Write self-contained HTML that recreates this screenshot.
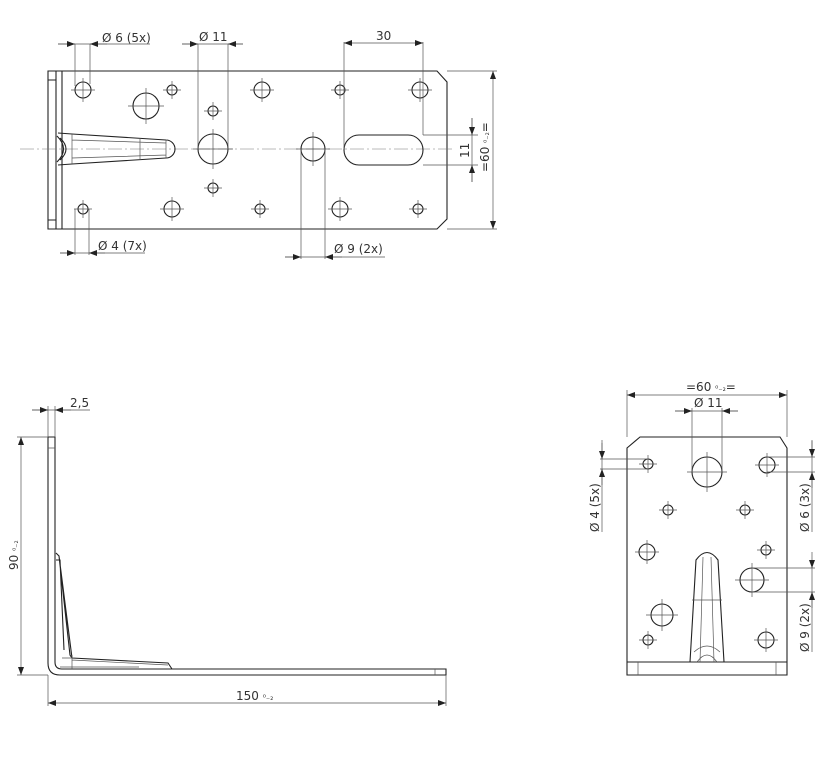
<!DOCTYPE html>
<html><head><meta charset="utf-8"><style>
html,body{margin:0;padding:0;background:#fff;}
svg{display:block;}
text{font-family:"DejaVu Sans","Liberation Sans",sans-serif;font-size:12px;fill:#333;}
.o{stroke:#222;stroke-width:1.1;fill:none;}
.t{stroke:#555;stroke-width:0.7;fill:none;}
.c{stroke:#777;stroke-width:0.5;fill:none;stroke-dasharray:14 3 2 3;}
</style></head><body>
<svg width="823" height="772" viewBox="0 0 823 772" xmlns="http://www.w3.org/2000/svg">
<defs>
<marker id="a" markerWidth="8" markerHeight="6" refX="8" refY="3" orient="auto-start-reverse" markerUnits="userSpaceOnUse"><path d="M0,0 L8,3 L0,6 z" fill="#222"/></marker>
<g id="h5"><circle r="5" class="o"/><path d="M-9,0H9M0,-9V9" class="t"/></g>
<g id="h8"><circle r="8" class="o"/><path d="M-12,0H12M0,-12V12" class="t"/></g>
<g id="h11"><circle r="11" class="o"/><path d="M-16,0H16M0,-16V16" class="t"/></g>
<g id="h12"><circle r="12" class="o"/><path d="M-17,0H17M0,-17V17" class="t"/></g>
<g id="h13"><circle r="13" class="o"/><path d="M-18,0H18M0,-18V18" class="t"/></g>
<g id="h15"><circle r="15" class="o"/><path d="M-20,0H20M0,-20V20" class="t"/></g>
</defs>

<!-- TOP VIEW -->
<path class="o" d="M48,71 H437 L447,82 V219 L437,229 H48 Z"/>
<path class="o" d="M56,71 V229 M62,71 V229 M48,80 H56 M48,220 H56"/>
<line class="c" x1="20" y1="149" x2="455" y2="149"/>
<path class="o" d="M58,133 L72,134 L166,140 A9,9 0 0 1 166,158 L72,164 L58,165"/>
<path class="t" d="M72,134 V164 M140,138 V160 M166,140 V158 M72,140 L166,143 M72,158 L166,155"/>
<path class="o" d="M57,136 Q70,149 57,162 M60,138 Q72,149 60,160"/>
<use href="#h8" x="83" y="90"/><use href="#h5" x="172" y="90"/><use href="#h8" x="262" y="90"/><use href="#h5" x="340" y="90"/><use href="#h8" x="420" y="90"/>
<use href="#h5" x="83" y="209"/><use href="#h8" x="172" y="209"/><use href="#h5" x="260" y="209"/><use href="#h8" x="340" y="209"/><use href="#h5" x="418" y="209"/>
<use href="#h5" x="213" y="111"/><use href="#h5" x="213" y="188"/>
<use href="#h13" x="146" y="106"/>
<use href="#h15" x="213" y="149"/>
<use href="#h12" x="313" y="149"/>
<rect class="o" x="344" y="135" width="79" height="30" rx="15"/>
<path class="t" d="M75,44 V86 M90,44 V84 M58,44 H150"/>
<path class="t" d="M58,44 H75" marker-end="url(#a)"/><path class="t" d="M107,44 H90" marker-end="url(#a)"/>
<text x="102" y="42">Ø 6 (5x)</text>
<path class="t" d="M198,44 V149 M228,44 V149 M182,44 H243"/>
<path class="t" d="M182,44 H198" marker-end="url(#a)"/><path class="t" d="M243,44 H228" marker-end="url(#a)"/>
<text x="199" y="41">Ø 11</text>
<path class="t" d="M344,42 V149 M423,42 V135"/>
<path class="t" d="M344,43 H423" marker-start="url(#a)" marker-end="url(#a)"/>
<text x="376" y="40">30</text>
<path class="t" d="M423,135 H478 M423,165 H478 M472,118 V182"/>
<path class="t" d="M472,118 V135" marker-end="url(#a)"/><path class="t" d="M472,182 V165" marker-end="url(#a)"/>
<text transform="translate(469,158) rotate(-90)">11</text>
<path class="t" d="M447,71 H497 M447,229 H497"/>
<path class="t" d="M493,71 V229" marker-start="url(#a)" marker-end="url(#a)"/>
<text transform="translate(489,172) rotate(-90)">=60 <tspan font-size="8">⁰₋₂</tspan>=</text>
<path class="t" d="M75,209 V255 M89,209 V255 M60,253 H145"/>
<path class="t" d="M60,253 H75" marker-end="url(#a)"/><path class="t" d="M105,253 H89" marker-end="url(#a)"/>
<text x="98" y="250">Ø 4 (7x)</text>
<path class="t" d="M301,149 V259 M325,149 V259 M285,257 H385"/>
<path class="t" d="M285,257 H301" marker-end="url(#a)"/><path class="t" d="M342,257 H325" marker-end="url(#a)"/>
<text x="334" y="253">Ø 9 (2x)</text>

<!-- SIDE VIEW -->
<path class="o" d="M48,437 H55 V662 Q55,669 62,669 H446 V675 H60 Q48,675 48,663 Z"/>
<path class="t" d="M48,448 H55 M435,669 V675"/>
<path class="o" d="M56,553 L59,556 L70,655 L72,658 L168,663 L172,669 M56,560 L60,560 L64,650 M59,556 L72,658"/>
<path class="t" d="M62,658 L72,658 M72,655 V669 M60,667 L139,667 M72,660 L168,665"/>
<path class="t" d="M48,437 V406 M55,437 V406 M32,410 H90"/>
<path class="t" d="M32,410 H48" marker-end="url(#a)"/><path class="t" d="M71,410 H55" marker-end="url(#a)"/>
<text x="70" y="407">2,5</text>
<path class="t" d="M17,437 H48 M17,675 H48"/>
<path class="t" d="M21,437 V675" marker-start="url(#a)" marker-end="url(#a)"/>
<text transform="translate(18,570) rotate(-90)">90 <tspan font-size="8">⁰₋₂</tspan></text>
<path class="t" d="M48,675 V706 M446,675 V706"/>
<path class="t" d="M48,703 H446" marker-start="url(#a)" marker-end="url(#a)"/>
<text x="236" y="700">150 <tspan font-size="8">⁰₋₂</tspan></text>

<!-- FRONT VIEW -->
<path class="o" d="M627,448 L640,437 H780 L787,448 V675 H627 Z"/>
<path class="o" d="M627,662 H787"/>
<path class="t" d="M638,662 V675 M776,662 V675"/>
<path class="o" d="M690,662 L696,560 Q707,545 718,560 L724,662"/>
<path class="t" d="M700,662 L703,557 M714,662 L711,557 M692,600 H722 M694,652 Q707,640 720,652 M697,662 Q707,648 717,662"/>
<use href="#h5" x="648" y="464"/><use href="#h15" x="707" y="472"/><use href="#h8" x="767" y="465"/>
<use href="#h5" x="668" y="510"/><use href="#h5" x="745" y="510"/>
<use href="#h8" x="647" y="552"/><use href="#h5" x="766" y="550"/>
<use href="#h12" x="752" y="580"/>
<use href="#h11" x="662" y="615"/>
<use href="#h5" x="648" y="640"/><use href="#h8" x="766" y="640"/>
<path class="t" d="M627,437 V390 M787,437 V390"/>
<path class="t" d="M627,395 H787" marker-start="url(#a)" marker-end="url(#a)"/>
<text x="686" y="391">=60 <tspan font-size="8">⁰₋₂</tspan>=</text>
<path class="t" d="M692,472 V408 M722,472 V408 M675,411 H738"/>
<path class="t" d="M675,411 H692" marker-end="url(#a)"/><path class="t" d="M738,411 H722" marker-end="url(#a)"/>
<text x="694" y="407">Ø 11</text>
<path class="t" d="M600,459 H648 M600,469 H648 M602,440 V532"/>
<path class="t" d="M602,443 V459" marker-end="url(#a)"/><path class="t" d="M602,485 V469" marker-end="url(#a)"/>
<text transform="translate(599,532) rotate(-90)">Ø 4 (5x)</text>
<path class="t" d="M767,457 H815 M767,472 H815 M812,440 V532"/>
<path class="t" d="M812,441 V457" marker-end="url(#a)"/><path class="t" d="M812,488 V472" marker-end="url(#a)"/>
<text transform="translate(809,532) rotate(-90)">Ø 6 (3x)</text>
<path class="t" d="M752,568 H815 M752,592 H815 M812,560 V652"/>
<path class="t" d="M812,552 V568" marker-end="url(#a)"/><path class="t" d="M812,608 V592" marker-end="url(#a)"/>
<text transform="translate(809,652) rotate(-90)">Ø 9 (2x)</text>
</svg>
</body></html>
